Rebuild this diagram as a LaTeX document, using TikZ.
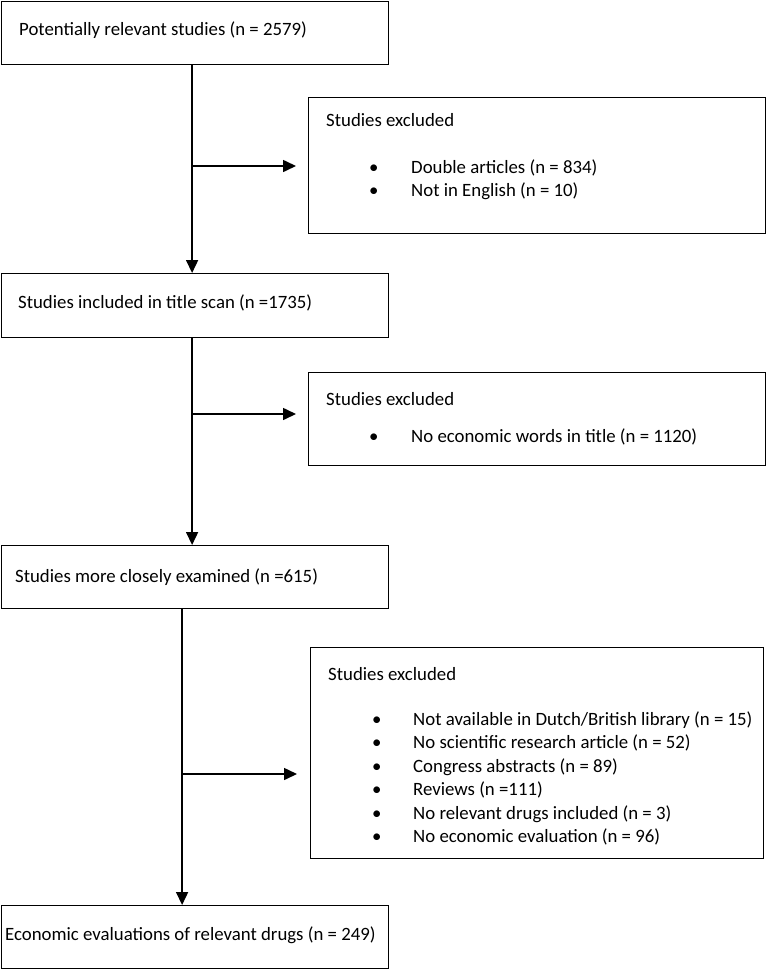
\documentclass[tikz,border=0pt]{standalone}
\usepackage{fontspec}
\setmainfont{Carlito}
\usetikzlibrary{arrows.meta}
\begin{document}
\begin{tikzpicture}[x=1pt,y=-1pt,
  box/.style={draw,line width=1.2pt,anchor=north west,inner sep=0pt},
  txt/.style={anchor=base west,inner sep=0pt,font=\fontsize{18.8}{22}\selectfont},
  bul/.style={txt,text width=42pt},
  flow/.style={line width=1.6pt,-{Triangle[length=13pt,width=12pt]}}
]
\useasboundingbox (0,0) rectangle (767,969);
% main boxes
\node[box,minimum width=387pt,minimum height=63pt] (b1) at (1,1) {};
\node[box,minimum width=387pt,minimum height=64pt] (b2) at (1,273) {};
\node[box,minimum width=387pt,minimum height=63pt] (b3) at (1,545) {};
\node[box,minimum width=387pt,minimum height=63pt] (b4) at (1,905) {};
% exclusion boxes
\node[box,minimum width=457pt,minimum height=136pt] (e1) at (308,97) {};
\node[box,minimum width=457pt,minimum height=93pt] (e2) at (308,372) {};
\node[box,minimum width=453pt,minimum height=211pt] (e3) at (310,647) {};
% main texts
\node[txt] (t1) at (19,35.5) {Potentially relevant studies (n = 2579)};
\node[txt] (t2) at (18,308.5) {Studies included in title scan (n =1735)};
\node[txt] (t3) at (15,582.5) {Studies more closely examined (n =615)};
\node[txt] (t4) at (5,940.5) {Economic evaluations of relevant drugs (n = 249)};
% exclusion texts
\node[txt] (h1) at (326,126.5) {Studies excluded};
\node[bul] (x11) at (369,173.5) {•};
\node[txt] (y11) at (411,173.5) {Double articles (n = 834)};
\node[bul] (x12) at (369,196.5) {•};
\node[txt] (y12) at (411,196.5) {Not in English (n = 10)};
\node[txt] (h2) at (326,405.5) {Studies excluded};
\node[bul] (x21) at (369,442.5) {•};
\node[txt] (y21) at (411,442.5) {No economic words in title (n = 1120)};
\node[txt] (h3) at (328,680.5) {Studies excluded};
\node[bul] (x31) at (372,725.5) {•};
\node[txt] (y31) at (413,725.5) {Not available in Dutch/British library (n = 15)};
\node[bul] (x32) at (372,748.9) {•};
\node[txt] (y32) at (413,748.9) {No scientific research article (n = 52)};
\node[bul] (x33) at (372,772.3) {•};
\node[txt] (y33) at (413,772.3) {Congress abstracts (n = 89)};
\node[bul] (x34) at (372,795.7) {•};
\node[txt] (y34) at (413,795.7) {Reviews (n =111)};
\node[bul] (x35) at (372,819.1) {•};
\node[txt] (y35) at (413,819.1) {No relevant drugs included (n = 3)};
\node[bul] (x36) at (372,842.5) {•};
\node[txt] (y36) at (413,842.5) {No economic evaluation (n = 96)};
% connectors
\draw[flow] ([xshift=-3pt]b1.south) -- ([xshift=-3pt]b2.north);
\draw[flow] ([xshift=-3pt]b2.south) -- ([xshift=-3pt]b3.north);
\draw[flow] ([xshift=-13pt]b3.south) -- ([xshift=-13pt]b4.north);
\coordinate (j1) at (191.5,166);
\coordinate (j2) at (191.5,414);
\coordinate (j3) at (181.5,774);
\draw[flow,shorten >=12pt] (j1) -- (j1 -| e1.west);
\draw[flow,shorten >=12pt] (j2) -- (j2 -| e2.west);
\draw[flow,shorten >=13pt] (j3) -- (j3 -| e3.west);
\end{tikzpicture}
\end{document}
